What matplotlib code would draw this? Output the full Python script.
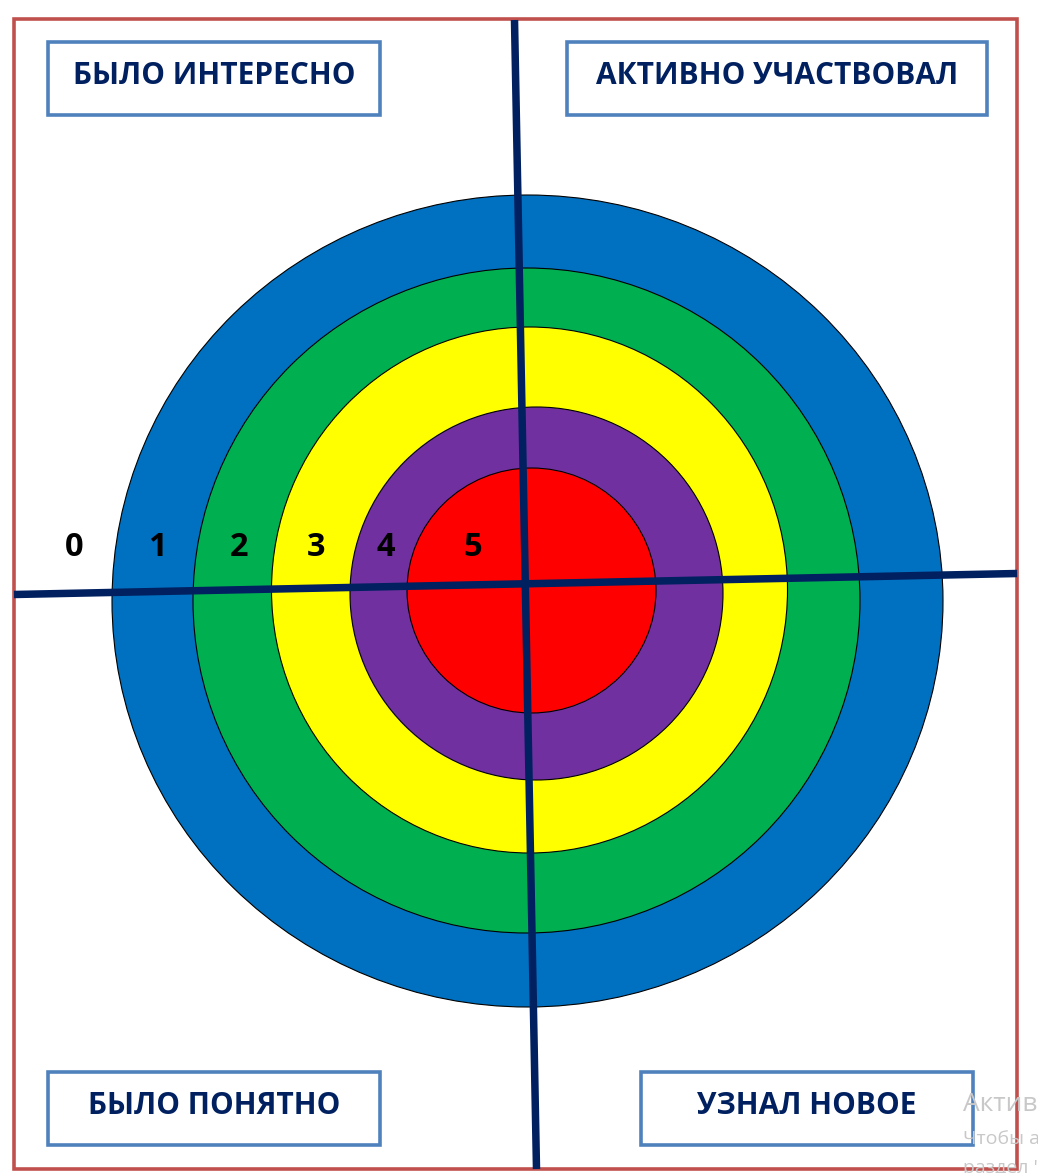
import matplotlib.pyplot as plt
from matplotlib.patches import Ellipse, Rectangle

# target rings, outer to inner
scores = [1, 2, 3, 4, 5]
ring_colors = ['#0070C0', '#00B050', '#FFFF00', '#7030A0', '#FF0000']
# center x, center y, radius x, radius y (pixels)
ring_geom = [(527.5, 601, 415.5, 406),
             (526.5, 600.5, 333.5, 332.5),
             (529.5, 590, 258, 263),
             (536.5, 593.5, 186.5, 186.5),
             (531.5, 590.5, 124.5, 122.5)]

score_labels = ['0', '1', '2', '3', '4', '5']
score_label_x = [74, 157, 239, 316, 386, 473]
score_label_y = 548

box_titles = ['БЫЛО ИНТЕРЕСНО', 'АКТИВНО УЧАСТВОВАЛ', 'БЫЛО ПОНЯТНО', 'УЗНАЛ НОВОЕ']
# x0, y0, x1, y1
box_geom = [(48, 42, 380, 115), (567, 42, 987, 115),
            (48, 1072, 380, 1145), (641, 1072, 973, 1145)]

W, H = 1038, 1173
fig = plt.figure(figsize=(W / 100, H / 100), dpi=100)
ax = fig.add_axes([0, 0, 1, 1])
ax.set_xlim(0, W)
ax.set_ylim(H, 0)
ax.axis('off')

# outer frame
ax.add_patch(Rectangle((14, 19), 1003, 1150, fill=False, ec='#C0504D', lw=2.6, zorder=1))

for (cx, cy, rx, ry), col in zip(ring_geom, ring_colors):
    ax.add_patch(Ellipse((cx, cy), 2 * rx, 2 * ry, fc=col, ec='black', lw=0.8, zorder=2))

# cross lines
ax.plot([514.5, 536.5], [20, 1169], color='#002060', lw=5.4, solid_capstyle='butt', zorder=3)
ax.plot([14, 1017], [594.5, 573.5], color='#002060', lw=5.4, solid_capstyle='butt', zorder=3)

for lab, x in zip(score_labels, score_label_x):
    ax.text(x, score_label_y, lab, ha='center', va='center', fontsize=23.5,
            fontweight='bold', family='Open Sans', color='black', zorder=4)

for t, (x0, y0, x1, y1) in zip(box_titles, box_geom):
    ax.add_patch(Rectangle((x0, y0), x1 - x0, y1 - y0, fc='white', ec='#4F81BD', lw=2.6, zorder=4))
    ax.text((x0 + x1) / 2, (y0 + y1) / 2 - 3, t, ha='center', va='center', fontsize=21.5,
            fontweight='bold', family='Open Sans', color='#002060', zorder=5)

# windows watermark, cut by the right edge as in the screenshot
ax.text(963, 1104, 'Активация Windows', ha='left', va='center', fontsize=19,
        family='Open Sans', color='#C8C8C8', zorder=6)
ax.text(963, 1139, 'Чтобы активировать Windows, перейдите в', ha='left', va='center',
        fontsize=14, family='Open Sans', color='#C8C8C8', zorder=6)
ax.text(963, 1168, 'раздел "Параметры".', ha='left', va='center',
        fontsize=14, family='Open Sans', color='#C8C8C8', zorder=6)

fig.savefig('out.png', dpi=100)
